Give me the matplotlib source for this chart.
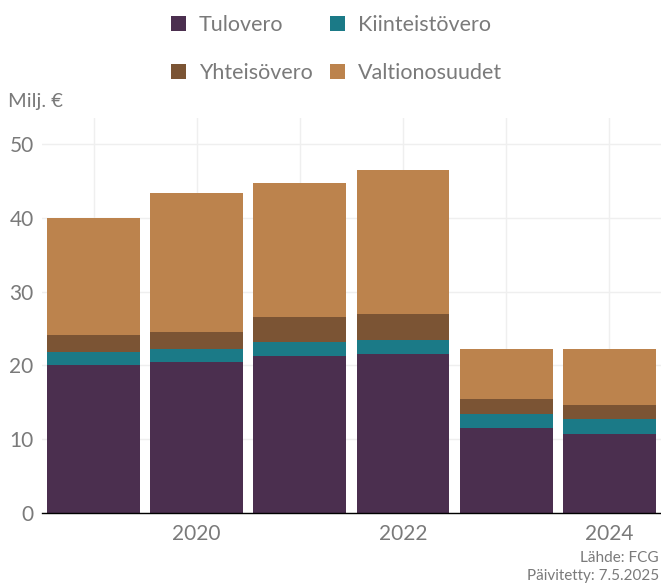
import matplotlib.pyplot as plt
from matplotlib.patches import Patch
import numpy as np

years = [2019, 2020, 2021, 2022, 2023, 2024]
tulovero = [20.0, 20.5, 21.3, 21.5, 11.5, 10.7]
kiinteistovero = [1.8, 1.7, 1.8, 1.9, 1.9, 2.0]
yhteisovero = [2.3, 2.3, 3.5, 3.5, 2.1, 1.9]
valtionosuudet = [15.8, 18.8, 18.1, 19.5, 6.7, 7.6]

series = [
    ("Tulovero", tulovero, "#4b2f4f"),
    ("Kiinteistövero", kiinteistovero, "#1b7a87"),
    ("Yhteisövero", yhteisovero, "#7b5434"),
    ("Valtionosuudet", valtionosuudet, "#bc834d"),
]
xtick_years = [2020, 2022, 2024]

plt.rcParams["font.family"] = ["Lato", "DejaVu Sans"]
text_color = "#7a7a7a"

fig = plt.figure(figsize=(6.61, 5.86), dpi=100)
ax = fig.add_axes([0.0635, 0.1246, 0.9365, 0.674])

bottom = np.zeros(len(years))
for name, values, color in series:
    ax.bar(years, values, width=0.9, bottom=bottom, color=color, zorder=2)
    bottom += np.array(values)

ax.set_xlim(2018.5, 2024.5)
ax.set_ylim(0, 53.5)
ax.set_yticks([0, 10, 20, 30, 40, 50])
ax.set_xticks(years, minor=True)
ax.set_xticks(xtick_years)
ax.grid(True, which="both", color="#efefef", linewidth=1, zorder=0)
ax.tick_params(axis="both", which="both", length=0, labelsize=15, colors=text_color, pad=6)
ax.tick_params(axis="x", pad=8)
for side in ["top", "right", "left"]:
    ax.spines[side].set_visible(False)
ax.spines["bottom"].set_color("black")
ax.spines["bottom"].set_linewidth(1)
ax.spines["bottom"].set_zorder(3)

fig.text(0.012, 0.827, "Milj. €", fontsize=14.5, color=text_color, va="center", ha="left")

# matplotlib fills legend column-wise, so reorder to get row-wise layout
order = [0, 2, 1, 3]
handles = [Patch(facecolor=series[i][2], edgecolor="none") for i in order]
labels = [series[i][0] for i in order]
fig.legend(handles, labels, loc="upper center", bbox_to_anchor=(0.509, 1.008), ncol=2,
           frameon=False, fontsize=15.5, labelcolor=text_color, handlelength=0.7,
           handleheight=0.7, handletextpad=0.6, columnspacing=0.8, labelspacing=1.3)

fig.text(0.997, 0.047, "Lähde: FCG", fontsize=11, color=text_color, ha="right", va="center")
fig.text(0.997, 0.017, "Päivitetty: 7.5.2025", fontsize=11, color=text_color, ha="right", va="center")

fig.savefig("out.png", dpi=100)
